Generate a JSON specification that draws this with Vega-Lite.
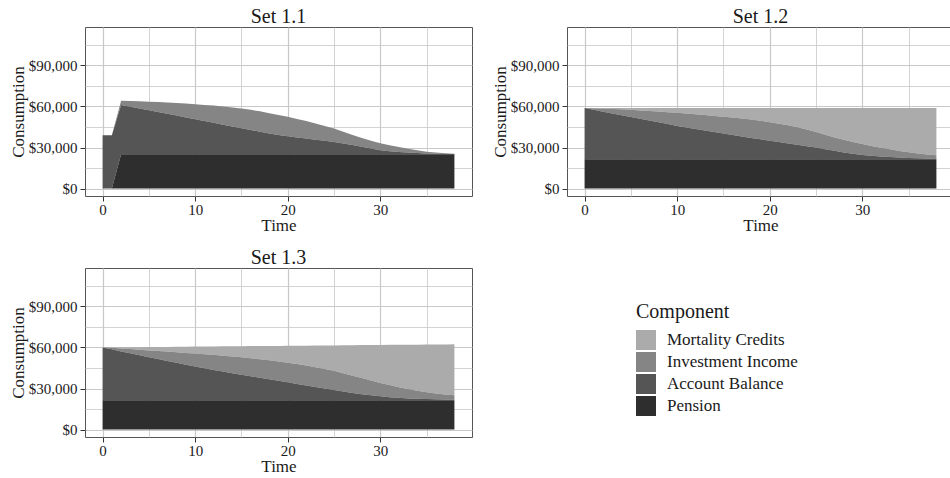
{
  "$schema": "https://vega.github.io/schema/vega-lite/v6.json",
  "background": "white",
  "padding": {"left": 8, "top": 6, "right": 0, "bottom": 0},
  "datasets": {
    "ranks": [
      {"Component": "Pension", "Rank": 1},
      {"Component": "Account Balance", "Rank": 2},
      {"Component": "Investment Income", "Rank": 3},
      {"Component": "Mortality Credits", "Rank": 4}
    ],
    "consumption": [
      {"Set": "Set 1.1", "Time": 0, "Pension": 0, "Account Balance": 39000, "Investment Income": 0, "Mortality Credits": 0},
      {"Set": "Set 1.1", "Time": 1, "Pension": 0, "Account Balance": 39000, "Investment Income": 0, "Mortality Credits": 0},
      {"Set": "Set 1.1", "Time": 2, "Pension": 25000, "Account Balance": 36000, "Investment Income": 3200, "Mortality Credits": 0},
      {"Set": "Set 1.1", "Time": 3, "Pension": 25000, "Account Balance": 34800, "Investment Income": 4200, "Mortality Credits": 0},
      {"Set": "Set 1.1", "Time": 4, "Pension": 25000, "Account Balance": 33500, "Investment Income": 5300, "Mortality Credits": 0},
      {"Set": "Set 1.1", "Time": 5, "Pension": 25000, "Account Balance": 32200, "Investment Income": 6300, "Mortality Credits": 0},
      {"Set": "Set 1.1", "Time": 6, "Pension": 25000, "Account Balance": 30900, "Investment Income": 7300, "Mortality Credits": 0},
      {"Set": "Set 1.1", "Time": 7, "Pension": 25000, "Account Balance": 29600, "Investment Income": 8300, "Mortality Credits": 0},
      {"Set": "Set 1.1", "Time": 8, "Pension": 25000, "Account Balance": 28300, "Investment Income": 9200, "Mortality Credits": 0},
      {"Set": "Set 1.1", "Time": 9, "Pension": 25000, "Account Balance": 27000, "Investment Income": 10100, "Mortality Credits": 0},
      {"Set": "Set 1.1", "Time": 10, "Pension": 25000, "Account Balance": 25600, "Investment Income": 11000, "Mortality Credits": 0},
      {"Set": "Set 1.1", "Time": 11, "Pension": 25000, "Account Balance": 24300, "Investment Income": 11800, "Mortality Credits": 0},
      {"Set": "Set 1.1", "Time": 12, "Pension": 25000, "Account Balance": 23000, "Investment Income": 12600, "Mortality Credits": 0},
      {"Set": "Set 1.1", "Time": 13, "Pension": 25000, "Account Balance": 21700, "Investment Income": 13300, "Mortality Credits": 0},
      {"Set": "Set 1.1", "Time": 14, "Pension": 25000, "Account Balance": 20400, "Investment Income": 13900, "Mortality Credits": 0},
      {"Set": "Set 1.1", "Time": 15, "Pension": 25000, "Account Balance": 19100, "Investment Income": 14400, "Mortality Credits": 0},
      {"Set": "Set 1.1", "Time": 16, "Pension": 25000, "Account Balance": 17800, "Investment Income": 14700, "Mortality Credits": 0},
      {"Set": "Set 1.1", "Time": 17, "Pension": 25000, "Account Balance": 16500, "Investment Income": 14900, "Mortality Credits": 0},
      {"Set": "Set 1.1", "Time": 18, "Pension": 25000, "Account Balance": 15200, "Investment Income": 14900, "Mortality Credits": 0},
      {"Set": "Set 1.1", "Time": 19, "Pension": 25000, "Account Balance": 14200, "Investment Income": 14600, "Mortality Credits": 0},
      {"Set": "Set 1.1", "Time": 20, "Pension": 25000, "Account Balance": 13300, "Investment Income": 14100, "Mortality Credits": 0},
      {"Set": "Set 1.1", "Time": 21, "Pension": 25000, "Account Balance": 12400, "Investment Income": 13500, "Mortality Credits": 0},
      {"Set": "Set 1.1", "Time": 22, "Pension": 25000, "Account Balance": 11500, "Investment Income": 12800, "Mortality Credits": 0},
      {"Set": "Set 1.1", "Time": 23, "Pension": 25000, "Account Balance": 10700, "Investment Income": 11800, "Mortality Credits": 0},
      {"Set": "Set 1.1", "Time": 24, "Pension": 25000, "Account Balance": 9900, "Investment Income": 10800, "Mortality Credits": 0},
      {"Set": "Set 1.1", "Time": 25, "Pension": 25000, "Account Balance": 9100, "Investment Income": 9700, "Mortality Credits": 0},
      {"Set": "Set 1.1", "Time": 26, "Pension": 25000, "Account Balance": 8000, "Investment Income": 8500, "Mortality Credits": 0},
      {"Set": "Set 1.1", "Time": 27, "Pension": 25000, "Account Balance": 6800, "Investment Income": 7400, "Mortality Credits": 0},
      {"Set": "Set 1.1", "Time": 28, "Pension": 25000, "Account Balance": 5600, "Investment Income": 6400, "Mortality Credits": 0},
      {"Set": "Set 1.1", "Time": 29, "Pension": 25000, "Account Balance": 4300, "Investment Income": 5700, "Mortality Credits": 0},
      {"Set": "Set 1.1", "Time": 30, "Pension": 25000, "Account Balance": 3000, "Investment Income": 5200, "Mortality Credits": 0},
      {"Set": "Set 1.1", "Time": 31, "Pension": 25000, "Account Balance": 2300, "Investment Income": 4300, "Mortality Credits": 0},
      {"Set": "Set 1.1", "Time": 32, "Pension": 25000, "Account Balance": 1700, "Investment Income": 3600, "Mortality Credits": 0},
      {"Set": "Set 1.1", "Time": 33, "Pension": 25000, "Account Balance": 1300, "Investment Income": 2800, "Mortality Credits": 0},
      {"Set": "Set 1.1", "Time": 34, "Pension": 25000, "Account Balance": 1000, "Investment Income": 2000, "Mortality Credits": 0},
      {"Set": "Set 1.1", "Time": 35, "Pension": 25000, "Account Balance": 700, "Investment Income": 1300, "Mortality Credits": 0},
      {"Set": "Set 1.1", "Time": 36, "Pension": 25000, "Account Balance": 500, "Investment Income": 800, "Mortality Credits": 0},
      {"Set": "Set 1.1", "Time": 37, "Pension": 25000, "Account Balance": 300, "Investment Income": 500, "Mortality Credits": 0},
      {"Set": "Set 1.1", "Time": 38, "Pension": 25000, "Account Balance": 200, "Investment Income": 300, "Mortality Credits": 0},

      {"Set": "Set 1.2", "Time": 0, "Pension": 21500, "Account Balance": 37300, "Investment Income": 0, "Mortality Credits": 0},
      {"Set": "Set 1.2", "Time": 1, "Pension": 21500, "Account Balance": 36000, "Investment Income": 1200, "Mortality Credits": 100},
      {"Set": "Set 1.2", "Time": 2, "Pension": 21500, "Account Balance": 34700, "Investment Income": 2300, "Mortality Credits": 300},
      {"Set": "Set 1.2", "Time": 3, "Pension": 21500, "Account Balance": 33400, "Investment Income": 3300, "Mortality Credits": 600},
      {"Set": "Set 1.2", "Time": 4, "Pension": 21500, "Account Balance": 32100, "Investment Income": 4300, "Mortality Credits": 900},
      {"Set": "Set 1.2", "Time": 5, "Pension": 21500, "Account Balance": 30800, "Investment Income": 5200, "Mortality Credits": 1300},
      {"Set": "Set 1.2", "Time": 6, "Pension": 21500, "Account Balance": 29500, "Investment Income": 6100, "Mortality Credits": 1700},
      {"Set": "Set 1.2", "Time": 7, "Pension": 21500, "Account Balance": 28200, "Investment Income": 7000, "Mortality Credits": 2100},
      {"Set": "Set 1.2", "Time": 8, "Pension": 21500, "Account Balance": 26900, "Investment Income": 7900, "Mortality Credits": 2500},
      {"Set": "Set 1.2", "Time": 9, "Pension": 21500, "Account Balance": 25600, "Investment Income": 8700, "Mortality Credits": 3000},
      {"Set": "Set 1.2", "Time": 10, "Pension": 21500, "Account Balance": 24300, "Investment Income": 9500, "Mortality Credits": 3500},
      {"Set": "Set 1.2", "Time": 11, "Pension": 21500, "Account Balance": 23200, "Investment Income": 10100, "Mortality Credits": 4000},
      {"Set": "Set 1.2", "Time": 12, "Pension": 21500, "Account Balance": 22100, "Investment Income": 10700, "Mortality Credits": 4500},
      {"Set": "Set 1.2", "Time": 13, "Pension": 21500, "Account Balance": 21000, "Investment Income": 11200, "Mortality Credits": 5100},
      {"Set": "Set 1.2", "Time": 14, "Pension": 21500, "Account Balance": 19900, "Investment Income": 11700, "Mortality Credits": 5700},
      {"Set": "Set 1.2", "Time": 15, "Pension": 21500, "Account Balance": 18800, "Investment Income": 12200, "Mortality Credits": 6300},
      {"Set": "Set 1.2", "Time": 16, "Pension": 21500, "Account Balance": 17700, "Investment Income": 12700, "Mortality Credits": 6900},
      {"Set": "Set 1.2", "Time": 17, "Pension": 21500, "Account Balance": 16600, "Investment Income": 13100, "Mortality Credits": 7600},
      {"Set": "Set 1.2", "Time": 18, "Pension": 21500, "Account Balance": 15500, "Investment Income": 13400, "Mortality Credits": 8400},
      {"Set": "Set 1.2", "Time": 19, "Pension": 21500, "Account Balance": 14500, "Investment Income": 13500, "Mortality Credits": 9300},
      {"Set": "Set 1.2", "Time": 20, "Pension": 21500, "Account Balance": 13500, "Investment Income": 13500, "Mortality Credits": 10300},
      {"Set": "Set 1.2", "Time": 21, "Pension": 21500, "Account Balance": 12500, "Investment Income": 13400, "Mortality Credits": 11400},
      {"Set": "Set 1.2", "Time": 22, "Pension": 21500, "Account Balance": 11500, "Investment Income": 13200, "Mortality Credits": 12600},
      {"Set": "Set 1.2", "Time": 23, "Pension": 21500, "Account Balance": 10500, "Investment Income": 12800, "Mortality Credits": 14000},
      {"Set": "Set 1.2", "Time": 24, "Pension": 21500, "Account Balance": 9500, "Investment Income": 12200, "Mortality Credits": 15600},
      {"Set": "Set 1.2", "Time": 25, "Pension": 21500, "Account Balance": 8500, "Investment Income": 11300, "Mortality Credits": 17500},
      {"Set": "Set 1.2", "Time": 26, "Pension": 21500, "Account Balance": 7300, "Investment Income": 10600, "Mortality Credits": 19400},
      {"Set": "Set 1.2", "Time": 27, "Pension": 21500, "Account Balance": 6100, "Investment Income": 9800, "Mortality Credits": 21400},
      {"Set": "Set 1.2", "Time": 28, "Pension": 21500, "Account Balance": 4900, "Investment Income": 9300, "Mortality Credits": 23100},
      {"Set": "Set 1.2", "Time": 29, "Pension": 21500, "Account Balance": 3900, "Investment Income": 8700, "Mortality Credits": 24700},
      {"Set": "Set 1.2", "Time": 30, "Pension": 21500, "Account Balance": 3100, "Investment Income": 8000, "Mortality Credits": 26200},
      {"Set": "Set 1.2", "Time": 31, "Pension": 21500, "Account Balance": 2400, "Investment Income": 7300, "Mortality Credits": 27600},
      {"Set": "Set 1.2", "Time": 32, "Pension": 21500, "Account Balance": 1900, "Investment Income": 6500, "Mortality Credits": 28900},
      {"Set": "Set 1.2", "Time": 33, "Pension": 21500, "Account Balance": 1500, "Investment Income": 5700, "Mortality Credits": 30100},
      {"Set": "Set 1.2", "Time": 34, "Pension": 21500, "Account Balance": 1200, "Investment Income": 4800, "Mortality Credits": 31300},
      {"Set": "Set 1.2", "Time": 35, "Pension": 21500, "Account Balance": 900, "Investment Income": 4100, "Mortality Credits": 32300},
      {"Set": "Set 1.2", "Time": 36, "Pension": 21500, "Account Balance": 700, "Investment Income": 3400, "Mortality Credits": 33200},
      {"Set": "Set 1.2", "Time": 37, "Pension": 21500, "Account Balance": 500, "Investment Income": 2900, "Mortality Credits": 33900},
      {"Set": "Set 1.2", "Time": 38, "Pension": 21500, "Account Balance": 400, "Investment Income": 2500, "Mortality Credits": 34400},

      {"Set": "Set 1.3", "Time": 0, "Pension": 21500, "Account Balance": 38500, "Investment Income": 0, "Mortality Credits": 0},
      {"Set": "Set 1.3", "Time": 1, "Pension": 21500, "Account Balance": 37100, "Investment Income": 1100, "Mortality Credits": 400},
      {"Set": "Set 1.3", "Time": 2, "Pension": 21500, "Account Balance": 35600, "Investment Income": 2200, "Mortality Credits": 800},
      {"Set": "Set 1.3", "Time": 3, "Pension": 21500, "Account Balance": 34200, "Investment Income": 3100, "Mortality Credits": 1400},
      {"Set": "Set 1.3", "Time": 4, "Pension": 21500, "Account Balance": 32800, "Investment Income": 4000, "Mortality Credits": 1900},
      {"Set": "Set 1.3", "Time": 5, "Pension": 21500, "Account Balance": 31400, "Investment Income": 4900, "Mortality Credits": 2500},
      {"Set": "Set 1.3", "Time": 6, "Pension": 21500, "Account Balance": 30000, "Investment Income": 5900, "Mortality Credits": 3000},
      {"Set": "Set 1.3", "Time": 7, "Pension": 21500, "Account Balance": 28600, "Investment Income": 6900, "Mortality Credits": 3400},
      {"Set": "Set 1.3", "Time": 8, "Pension": 21500, "Account Balance": 27300, "Investment Income": 7700, "Mortality Credits": 4000},
      {"Set": "Set 1.3", "Time": 9, "Pension": 21500, "Account Balance": 25900, "Investment Income": 8600, "Mortality Credits": 4500},
      {"Set": "Set 1.3", "Time": 10, "Pension": 21500, "Account Balance": 24500, "Investment Income": 9600, "Mortality Credits": 5000},
      {"Set": "Set 1.3", "Time": 11, "Pension": 21500, "Account Balance": 23300, "Investment Income": 10300, "Mortality Credits": 5600},
      {"Set": "Set 1.3", "Time": 12, "Pension": 21500, "Account Balance": 22100, "Investment Income": 11000, "Mortality Credits": 6100},
      {"Set": "Set 1.3", "Time": 13, "Pension": 21500, "Account Balance": 20900, "Investment Income": 11600, "Mortality Credits": 6800},
      {"Set": "Set 1.3", "Time": 14, "Pension": 21500, "Account Balance": 19700, "Investment Income": 12200, "Mortality Credits": 7400},
      {"Set": "Set 1.3", "Time": 15, "Pension": 21500, "Account Balance": 18500, "Investment Income": 12800, "Mortality Credits": 8100},
      {"Set": "Set 1.3", "Time": 16, "Pension": 21500, "Account Balance": 17400, "Investment Income": 13200, "Mortality Credits": 8900},
      {"Set": "Set 1.3", "Time": 17, "Pension": 21500, "Account Balance": 16300, "Investment Income": 13600, "Mortality Credits": 9600},
      {"Set": "Set 1.3", "Time": 18, "Pension": 21500, "Account Balance": 15200, "Investment Income": 13900, "Mortality Credits": 10500},
      {"Set": "Set 1.3", "Time": 19, "Pension": 21500, "Account Balance": 14100, "Investment Income": 14200, "Mortality Credits": 11300},
      {"Set": "Set 1.3", "Time": 20, "Pension": 21500, "Account Balance": 13000, "Investment Income": 14400, "Mortality Credits": 12300},
      {"Set": "Set 1.3", "Time": 21, "Pension": 21500, "Account Balance": 11800, "Investment Income": 14600, "Mortality Credits": 13400},
      {"Set": "Set 1.3", "Time": 22, "Pension": 21500, "Account Balance": 10700, "Investment Income": 14600, "Mortality Credits": 14500},
      {"Set": "Set 1.3", "Time": 23, "Pension": 21500, "Account Balance": 9600, "Investment Income": 14500, "Mortality Credits": 15800},
      {"Set": "Set 1.3", "Time": 24, "Pension": 21500, "Account Balance": 8500, "Investment Income": 14200, "Mortality Credits": 17200},
      {"Set": "Set 1.3", "Time": 25, "Pension": 21500, "Account Balance": 7400, "Investment Income": 14000, "Mortality Credits": 18600},
      {"Set": "Set 1.3", "Time": 26, "Pension": 21500, "Account Balance": 6300, "Investment Income": 13400, "Mortality Credits": 20400},
      {"Set": "Set 1.3", "Time": 27, "Pension": 21500, "Account Balance": 5300, "Investment Income": 12500, "Mortality Credits": 22300},
      {"Set": "Set 1.3", "Time": 28, "Pension": 21500, "Account Balance": 4300, "Investment Income": 11800, "Mortality Credits": 24100},
      {"Set": "Set 1.3", "Time": 29, "Pension": 21500, "Account Balance": 3500, "Investment Income": 10800, "Mortality Credits": 25900},
      {"Set": "Set 1.3", "Time": 30, "Pension": 21500, "Account Balance": 2800, "Investment Income": 9800, "Mortality Credits": 27700},
      {"Set": "Set 1.3", "Time": 31, "Pension": 21500, "Account Balance": 2200, "Investment Income": 8800, "Mortality Credits": 29400},
      {"Set": "Set 1.3", "Time": 32, "Pension": 21500, "Account Balance": 1700, "Investment Income": 7800, "Mortality Credits": 30900},
      {"Set": "Set 1.3", "Time": 33, "Pension": 21500, "Account Balance": 1300, "Investment Income": 6800, "Mortality Credits": 32400},
      {"Set": "Set 1.3", "Time": 34, "Pension": 21500, "Account Balance": 1000, "Investment Income": 5800, "Mortality Credits": 33700},
      {"Set": "Set 1.3", "Time": 35, "Pension": 21500, "Account Balance": 800, "Investment Income": 4900, "Mortality Credits": 34900},
      {"Set": "Set 1.3", "Time": 36, "Pension": 21500, "Account Balance": 600, "Investment Income": 4200, "Mortality Credits": 35900},
      {"Set": "Set 1.3", "Time": 37, "Pension": 21500, "Account Balance": 400, "Investment Income": 3700, "Mortality Credits": 36600},
      {"Set": "Set 1.3", "Time": 38, "Pension": 21500, "Account Balance": 300, "Investment Income": 3200, "Mortality Credits": 37300}
    ]
  },
  "data": {"name": "consumption"},
  "transform": [
    {"fold": ["Mortality Credits", "Investment Income", "Account Balance", "Pension"], "as": ["Component", "Value"]},
    {"lookup": "Component", "from": {"data": {"name": "ranks"}, "key": "Component", "fields": ["Rank"]}}
  ],
  "facet": {
    "field": "Set",
    "type": "nominal",
    "header": {
      "title": null,
      "labelFont": "Liberation Serif",
      "labelFontSize": 20,
      "labelColor": "#1a1a1a",
      "labelPadding": 0
    }
  },
  "columns": 2,
  "spacing": {"column": 17, "row": 13},
  "resolve": {"axis": {"x": "independent", "y": "independent"}},
  "spec": {
    "width": 387,
    "height": 169,
    "mark": {"type": "area", "interpolate": "linear", "strokeWidth": 0},
    "encoding": {
      "x": {
        "field": "Time",
        "type": "quantitative",
        "title": "Time",
        "scale": {"domain": [-1.9, 39.9], "nice": false, "zero": false},
        "axis": {
          "values": [0, 5, 10, 15, 20, 25, 30, 35],
          "domain": false,
          "grid": true,
          "gridColor": "#c8c8c8",
          "gridWidth": {"condition": {"test": "datum.value % 10 !== 0", "value": 0.8}, "value": 1.2},
          "tickColor": "#333333",
          "tickSize": 5,
          "tickOpacity": {"condition": {"test": "datum.value % 10 !== 0", "value": 0}, "value": 1},
          "labelExpr": "datum.value % 10 === 0 ? datum.label : ''",
          "labelFont": "Liberation Serif",
          "labelFontSize": 15,
          "labelColor": "#1a1a1a",
          "labelPadding": 1,
          "titleFont": "Liberation Serif",
          "titleFontSize": 17,
          "titleFontWeight": "normal",
          "titleColor": "#1a1a1a",
          "titlePadding": 0
        }
      },
      "y": {
        "field": "Value",
        "type": "quantitative",
        "title": "Consumption",
        "stack": "zero",
        "scale": {"domain": [-5400, 118000], "nice": false, "zero": false},
        "axis": {
          "values": [0, 15000, 30000, 45000, 60000, 75000, 90000, 105000],
          "domain": false,
          "grid": true,
          "gridColor": "#c8c8c8",
          "gridWidth": {"condition": {"test": "datum.value % 30000 !== 0", "value": 0.8}, "value": 1.2},
          "tickColor": "#333333",
          "tickSize": 5,
          "tickOpacity": {"condition": {"test": "datum.value % 30000 !== 0", "value": 0}, "value": 1},
          "labelExpr": "datum.value % 30000 === 0 ? '$' + format(datum.value, ',') : ''",
          "labelFont": "Liberation Serif",
          "labelFontSize": 15,
          "labelColor": "#1a1a1a",
          "labelPadding": 3,
          "titleFont": "Liberation Serif",
          "titleFontSize": 17,
          "titleFontWeight": "normal",
          "titleColor": "#1a1a1a",
          "titlePadding": 1
        }
      },
      "order": {"field": "Rank", "type": "quantitative", "sort": "ascending"},
      "color": {
        "field": "Component",
        "type": "nominal",
        "title": "Component",
        "scale": {
          "domain": ["Mortality Credits", "Investment Income", "Account Balance", "Pension"],
          "range": ["#ababab", "#858585", "#555555", "#2e2e2e"]
        },
        "legend": {
          "orient": "none",
          "legendX": 551,
          "legendY": 275,
          "symbolType": "square",
          "symbolSize": 400,
          "symbolStrokeWidth": 0,
          "symbolOpacity": 1,
          "rowPadding": 2,
          "labelOffset": 11,
          "titlePadding": 8,
          "titleFont": "Liberation Serif",
          "titleFontSize": 20,
          "titleFontWeight": "normal",
          "titleColor": "#1a1a1a",
          "labelFont": "Liberation Serif",
          "labelFontSize": 17,
          "labelColor": "#1a1a1a"
        }
      }
    }
  },
  "config": {
    "font": "Liberation Serif",
    "view": {"stroke": "#555555", "strokeWidth": 1}
  }
}
